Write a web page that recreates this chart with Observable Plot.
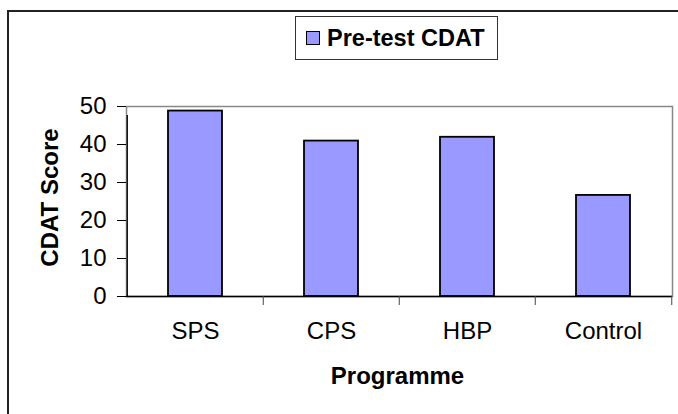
<!DOCTYPE html>
<html>
<head>
<meta charset="utf-8">
<script src="https://cdn.jsdelivr.net/npm/d3@7"></script>
<script src="https://cdn.jsdelivr.net/npm/@observablehq/plot@0.6"></script>
<style>
  html, body { margin: 0; padding: 0; background: #fff; overflow: hidden; }
  #wrap { position: relative; width: 678px; height: 414px; overflow: hidden; font-family: "Liberation Sans", Arial, sans-serif; }
  #outerTop { position: absolute; left: 7px; top: 10px; width: 680px; height: 2px; background: #222; }
  #outerLeft { position: absolute; left: 7px; top: 10px; width: 2px; height: 410px; background: #222; }
  #legend { position: absolute; left: 295px; top: 16px; width: 203px; height: 44px; border: 1px solid #333; box-sizing: border-box; background: #fff; display: flex; align-items: center; }
  #legend .sw { width: 12px; height: 12px; background: #9999ff; border: 1.5px solid #000; margin-left: 10px; margin-right: 7px; flex: none; }
  #legend .lab { font-weight: bold; font-size: 23.5px; color: #000; white-space: nowrap; }
  #chart { position: absolute; left: 0; top: 0; }
</style>
</head>
<body>
<div id="wrap">
  <div id="outerTop"></div>
  <div id="outerLeft"></div>
  <div id="chart"></div>
  <div id="legend"></div>
</div>
<script>
const programmes = ["SPS", "CPS", "HBP", "Control"];
const preTestCDAT = [48.8, 40.9, 41.9, 26.6];
const yTicks = [0, 10, 20, 30, 40, 50];
const seriesName = "Pre-test CDAT";
const xTitle = "Programme";
const yTitle = "CDAT Score";

const data = programmes.map((p, i) => ({programme: p, score: preTestCDAT[i]}));

const W = 678, H = 414;
const mL = 126, mR = 6, mT = 106, mB = 118;
const bandW = (W - mL - mR) / programmes.length;

const chart = Plot.plot({
  width: W,
  height: H,
  marginLeft: mL,
  marginRight: mR,
  marginTop: mT,
  marginBottom: mB,
  style: {fontFamily: '"Liberation Sans", Arial, sans-serif', background: "transparent", color: "#000"},
  x: {domain: programmes, paddingInner: 0.6, paddingOuter: 0.3, label: null},
  y: {type: "linear", domain: [0, 50], label: null},
  marks: [
    Plot.frame({stroke: "#888", strokeWidth: 1.5}),
    Plot.barY(data, {x: "programme", y: "score", fill: "#9999ff", stroke: "#000", strokeWidth: 1.8}),
    Plot.ruleY([0], {stroke: "#000", strokeWidth: 1.3}),
    // left value axis line (extends a little below the baseline)
    Plot.ruleX([programmes[0]], {x: d => d, dx: -bandW / 2, y1: 0, y2: 50, insetBottom: -9, stroke: "#000", strokeWidth: 1.3}),
    // category boundary ticks
    Plot.ruleX(programmes.slice(1), {x: d => d, dx: -bandW / 2, y1: 0, y2: 0, insetBottom: -9, stroke: "#444", strokeWidth: 1}),
    Plot.ruleX(programmes.slice(-1), {x: d => d, dx: bandW / 2, y1: 0, y2: 0, insetBottom: -9, stroke: "#444", strokeWidth: 1}),
    Plot.axisY({ticks: yTicks, tickSize: 9, tickPadding: 11, fontSize: 24, tickFormat: d => d, stroke: "#000"}),
    Plot.axisX({tickSize: 0, tickPadding: 25, fontSize: 24}),
    Plot.text([yTitle], {frameAnchor: "left", dx: -76, dy: -4, rotate: -90, fontSize: 24, fontWeight: "bold", textAnchor: "middle", lineAnchor: "middle"}),
    Plot.text([xTitle], {frameAnchor: "bottom", dx: -2, dy: 80, fontSize: 24, fontWeight: "bold", textAnchor: "middle", lineAnchor: "middle"})
  ]
});
document.getElementById("chart").appendChild(chart);

const legend = document.getElementById("legend");
legend.innerHTML = `<div class="sw"></div><div class="lab">${seriesName}</div>`;
</script>
</body>
</html>
